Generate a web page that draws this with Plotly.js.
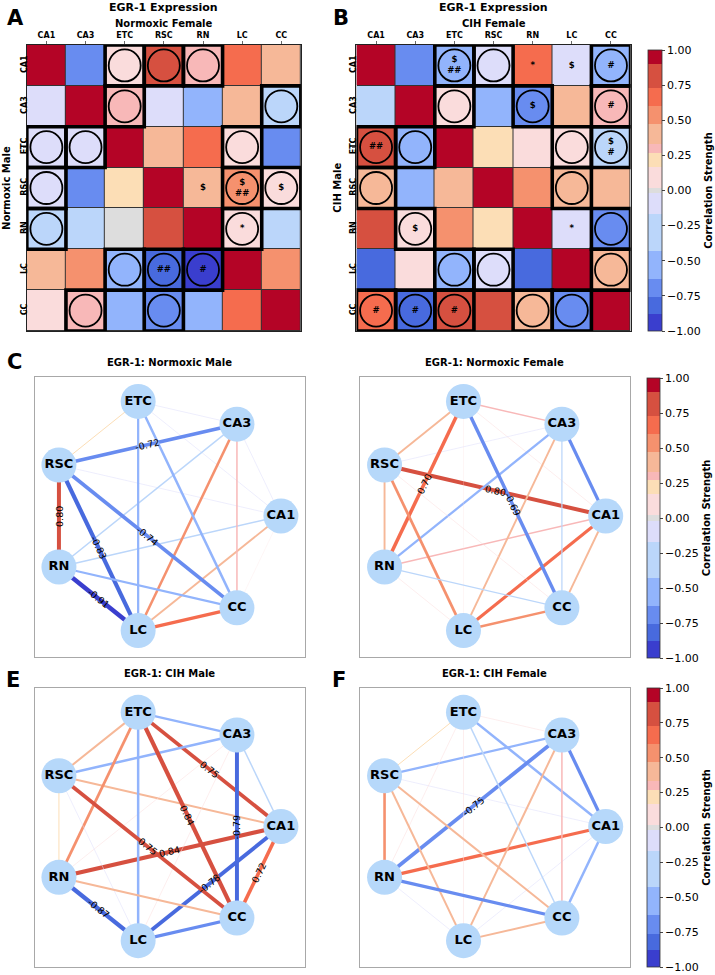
<!DOCTYPE html>
<html><head><meta charset="utf-8">
<script src="https://cdn.plot.ly/plotly-3.0.1.min.js"></script>
<style>html,body{margin:0;padding:0;background:#fff}#chart{width:715px;height:975px}</style>
</head><body><div id="chart"></div>
<script>
// ---------------- DATA ----------------
const regions = ['CA1','CA3','ETC','RSC','RN','LC','CC'];
// Normoxic matrix: upper triangle = Normoxic Female, lower triangle = Normoxic Male
const normoxicCorr = [
  [ 1.00, -0.65,  0.10,  0.80,  0.30,  0.62,  0.38],
  [-0.10,  1.00,  0.30, -0.10, -0.45,  0.38, -0.25],
  [-0.10, -0.10,  1.00,  0.38,  0.70,  0.05, -0.69],
  [-0.10, -0.72,  0.20,  1.00,  0.38,  0.55,  0.10],
  [-0.30, -0.30,  0.00,  0.80,  1.00,  0.10, -0.25],
  [ 0.38,  0.50, -0.45, -0.83, -0.91,  1.00,  0.50],
  [ 0.05,  0.30, -0.50, -0.74, -0.45,  0.65,  1.00]
];
// CIH matrix: upper triangle = CIH Female, lower triangle = CIH Male
const cihCorr = [
  [ 1.00, -0.65, -0.50, -0.10,  0.65, -0.10, -0.50],
  [-0.30,  1.00,  0.10, -0.45, -0.75,  0.40,  0.30],
  [ 0.75, -0.45,  1.00,  0.20,  0.10,  0.10, -0.30],
  [ 0.40, -0.50,  0.40,  1.00,  0.52,  0.40,  0.40],
  [ 0.84,  0.10,  0.55,  0.20,  1.00, -0.10, -0.65],
  [-0.78,  0.10, -0.50, -0.10, -0.87,  1.00,  0.40],
  [ 0.72, -0.79,  0.84,  0.75,  0.40, -0.64,  1.00]
];
// significant cells (circle + thick box)
const normoxicSig = [
  [0,0,1,1,1,0,0],
  [0,0,1,0,0,0,1],
  [1,1,0,0,0,1,0],
  [1,0,0,0,0,1,1],
  [1,0,0,0,0,1,0],
  [0,0,1,1,1,0,0],
  [0,1,0,1,0,0,0]
];
const cihSig = [
  [0,0,1,1,0,0,1],
  [0,0,1,0,1,0,1],
  [1,1,0,0,0,1,1],
  [1,0,0,0,0,1,0],
  [0,1,0,0,0,0,1],
  [0,0,1,1,0,0,1],
  [1,1,1,0,1,1,0]
];
// group-comparison symbols inside cells
const normoxicMarks = [
  ['','','','','','',''],
  ['','','','','','',''],
  ['','','','','','',''],
  ['','','','','$','$<br>##','$'],
  ['','','','','','*',''],
  ['','','','##','#','',''],
  ['','','','','','','']
];
const cihMarks = [
  ['','','$<br>##','','*','$','#'],
  ['','','','','$','','#'],
  ['##','','','','','','$<br>#'],
  ['','','','','','',''],
  ['','$','','','','*',''],
  ['','','','','','',''],
  ['#','#','#','','','','']
];
const labelThreshold = 0.68;
const colorBands = [
  [-1.00, -0.88, 'rgb(58,62,206)'],
  [-0.88, -0.76, 'rgb(72,106,222)'],
  [-0.76, -0.63, 'rgb(104,140,240)'],
  [-0.63, -0.43, 'rgb(146,180,252)'],
  [-0.43, -0.17, 'rgb(187,214,250)'],
  [-0.17, -0.02, 'rgb(221,221,250)'],
  [-0.02,  0.02, 'rgb(221,221,221)'],
  [ 0.02,  0.17, 'rgb(250,220,220)'],
  [ 0.17,  0.27, 'rgb(252,222,182)'],
  [ 0.27,  0.33, 'rgb(248,184,184)'],
  [ 0.33,  0.47, 'rgb(246,184,152)'],
  [ 0.47,  0.60, 'rgb(245,145,110)'],
  [ 0.60,  0.73, 'rgb(245,108,78)'],
  [ 0.73,  0.90, 'rgb(214,80,64)'],
  [ 0.90,  1.00, 'rgb(180,4,38)']
];

// ---------------- HELPERS ----------------
const W = 715, H = 975;
const FONT = 'DejaVu Sans, Liberation Sans, sans-serif';
const px = v => v / W;
const py = v => 1 - v / H;
const colorscale = [];
colorBands.forEach(b => { colorscale.push([(b[0]+1)/2, b[2]]); colorscale.push([(b[1]+1)/2, b[2]]); });
function colorFor(v){
  for (const b of colorBands){ if (v >= b[0] && v < b[1]) return b[2]; }
  return colorBands[colorBands.length-1][2];
}
const idx = regions.map((_, i) => i);

const traces = [];
const shapes = [];
const annotations = [];
const layout = {
  width: W, height: H, margin: {l:0, r:0, t:0, b:0},
  paper_bgcolor: '#fff', plot_bgcolor: '#fff', showlegend: false, hovermode: false,
  font: {family: FONT, color: '#000'}
};

// ---------------- HEATMAPS ----------------
function heatmapPanel(n, matrix, sig, marks, x0, x1, y0, y1, showScale){
  const xa = n === 1 ? 'x' : 'x' + n, ya = n === 1 ? 'y' : 'y' + n;
  const xk = n === 1 ? 'xaxis' : 'xaxis' + n, yk = n === 1 ? 'yaxis' : 'yaxis' + n;
  layout[xk] = {domain: [px(x0), px(x1)], range: [-0.5, 6.5], anchor: ya, side: 'top',
    tickvals: idx, ticktext: regions, tickfont: {size: 8, weight: 'bold', family: FONT},
    ticks: 'outside', ticklen: 3, tickwidth: 0.8, showgrid: false, zeroline: false,
    showline: true, mirror: true, linecolor: '#222', linewidth: 1, fixedrange: true};
  layout[yk] = {domain: [py(y1), py(y0)], range: [6.5, -0.5], anchor: xa,
    tickvals: idx, ticktext: regions, tickangle: -90, tickfont: {size: 8, weight: 'bold', family: FONT},
    ticks: 'outside', ticklen: 3, tickwidth: 0.8, ticklabelstandoff: -7, showgrid: false, zeroline: false,
    showline: true, mirror: true, linecolor: '#222', linewidth: 1, fixedrange: true};
  shapes.push({type: 'rect', xref: xa, yref: ya, x0: -0.5, x1: 6.5, y0: -0.5, y1: 6.5,
    fillcolor: '#333', line: {width: 0}, layer: 'below'});
  const hm = {type: 'heatmap', z: matrix, x: idx, y: idx, xaxis: xa, yaxis: ya,
    colorscale: colorscale, zmin: -1, zmax: 1, xgap: 1, ygap: 1, hoverinfo: 'skip',
    showscale: showScale};
  if (showScale){
    hm.colorbar = {x: px(653), xanchor: 'left', y: py(190.5), yanchor: 'middle',
      len: 281, lenmode: 'pixels', thickness: 14, thicknessmode: 'pixels', xpad: 0, ypad: 0,
      outlinewidth: 0.8, outlinecolor: '#333',
      tickvals: [-1,-0.75,-0.5,-0.25,0,0.25,0.5,0.75,1], tickformat: '.2f',
      ticks: 'outside', ticklen: 3, tickfont: {size: 11, family: FONT},
      title: {text: 'Correlation Strength', side: 'right', font: {size: 10, weight: 'bold', family: FONT}}};
  }
  traces.push(hm);
  const cx = [], cy = [], tx = [], ty = [], tt = [];
  for (let i = 0; i < 7; i++) for (let j = 0; j < 7; j++){
    if (sig[i][j]){
      cx.push(j); cy.push(i);
      shapes.push({type: 'rect', xref: xa, yref: ya, x0: j-0.5, x1: j+0.5, y0: i-0.5, y1: i+0.5,
        line: {color: '#000', width: 3.6}, fillcolor: 'rgba(0,0,0,0)'});
    }
    if (marks[i][j]){ tx.push(j); ty.push(i); tt.push(marks[i][j]); }
  }
  traces.push({type: 'scatter', mode: 'markers', x: cx, y: cy, xaxis: xa, yaxis: ya, hoverinfo: 'skip',
    marker: {symbol: 'circle', size: 32, color: 'rgba(0,0,0,0)', line: {color: '#000', width: 1.8}}});
  traces.push({type: 'scatter', mode: 'text', x: tx, y: ty, text: tt, xaxis: xa, yaxis: ya, hoverinfo: 'skip',
    textfont: {size: 8.5, weight: 'bold', family: FONT, color: '#000'}});
}
heatmapPanel(1, normoxicCorr, normoxicSig, normoxicMarks, 27, 303, 45, 331, false);
heatmapPanel(2, cihCorr, cihSig, cihMarks, 359, 635, 45, 331, true);

// ---------------- NETWORKS ----------------
const nodeX = regions.map((_, k) => Math.cos(2*Math.PI*k/7));
const nodeY = regions.map((_, k) => Math.sin(2*Math.PI*k/7));
function networkPanel(n, matrix, female, x0, x1, y0, y1, cbar){
  const xa = 'x' + n, ya = 'y' + n;
  const common = {showgrid: false, zeroline: false, showticklabels: false, ticks: '',
    showline: true, mirror: true, linecolor: '#a8a8a8', linewidth: 1, fixedrange: true};
  layout['xaxis' + n] = Object.assign({domain: [px(x0), px(x1)], range: [-1.108, 1.205], anchor: ya}, common);
  layout['yaxis' + n] = Object.assign({domain: [py(y1), py(y0)], range: [-1.2, 1.183], anchor: xa}, common);
  for (let a = 0; a < 7; a++) for (let b = a+1; b < 7; b++){
    const r = female ? matrix[a][b] : matrix[b][a];
    traces.push({type: 'scatter', mode: 'lines', x: [nodeX[a], nodeX[b]], y: [nodeY[a], nodeY[b]],
      xaxis: xa, yaxis: ya, hoverinfo: 'skip',
      line: {color: colorFor(r), width: Math.abs(r) * 5}});
    if (Math.abs(r) >= labelThreshold){
      let th = Math.atan2(nodeY[b]-nodeY[a], nodeX[b]-nodeX[a]) * 180 / Math.PI;
      if (th > 90) th -= 180;
      if (th <= -90) th += 180;
      annotations.push({xref: xa, yref: ya, x: (nodeX[a]+nodeX[b])/2, y: (nodeY[a]+nodeY[b])/2,
        text: r.toFixed(2), showarrow: false, textangle: -th,
        font: {size: 9.5, family: FONT, color: '#000'}});
    }
  }
  if (cbar){
    traces.push({type: 'scatter', mode: 'markers', x: [0, 0], y: [0, 0], xaxis: xa, yaxis: ya, hoverinfo: 'skip',
      marker: {size: 1, opacity: 0, color: [-1, 1], cmin: -1, cmax: 1, colorscale: colorscale, showscale: true,
        colorbar: {x: px(652), xanchor: 'left', y: py(cbar.center), yanchor: 'middle',
          len: cbar.len, lenmode: 'pixels', thickness: 13, thicknessmode: 'pixels', xpad: 0, ypad: 0,
          outlinewidth: 0.8, outlinecolor: '#333',
          tickvals: [-1,-0.75,-0.5,-0.25,0,0.25,0.5,0.75,1], tickformat: '.2f',
          ticks: 'outside', ticklen: 3, tickfont: {size: 11, family: FONT},
          title: {text: 'Correlation Strength', side: 'right', font: {size: 10, weight: 'bold', family: FONT}}}}});
  }
  traces.push({type: 'scatter', mode: 'markers+text', x: nodeX, y: nodeY, text: regions,
    xaxis: xa, yaxis: ya, hoverinfo: 'skip', textposition: 'middle center',
    marker: {size: 35, color: 'rgb(182,216,250)', line: {width: 0}},
    textfont: {size: 13, weight: 'bold', family: FONT, color: '#000'}});
}
networkPanel(3, normoxicCorr, false, 35, 307, 377, 657, null);
networkPanel(4, normoxicCorr, true, 363, 634, 377, 657, {center: 518, len: 280});
networkPanel(5, cihCorr, false, 35, 307, 688, 967, null);
networkPanel(6, cihCorr, true, 363, 634, 688, 967, {center: 827.5, len: 279});

// ---------------- TEXT ----------------
function txt(x, y, text, size, opts){
  annotations.push(Object.assign({xref: 'paper', yref: 'paper', x: px(x), y: py(y), text: text,
    showarrow: false, xanchor: 'center', yanchor: 'middle',
    font: {size: size, weight: 'bold', family: FONT, color: '#000'}}, opts || {}));
}
txt(165, 8, 'EGR-1 Expression', 11);
txt(497, 8, 'EGR-1 Expression', 11);
txt(165, 24, 'Normoxic Female', 10);
txt(497, 24, 'CIH Female', 10);
txt(6, 188, 'Normoxic Male', 10, {textangle: -90});
txt(339, 188, 'CIH Male', 10, {textangle: -90});
txt(16, 18, 'A', 21);
txt(343, 18, 'B', 21);
txt(15, 362, 'C', 21);
txt(13, 680, 'E', 21);
txt(341, 680, 'F', 21);
txt(171, 362, 'EGR-1: Normoxic Male', 10);
txt(498, 362, 'EGR-1: Normoxic Female', 10);
txt(171, 673, 'EGR-1: CIH Male', 10);
txt(498, 673, 'EGR-1: CIH Female', 10);

layout.shapes = shapes;
layout.annotations = annotations;
Plotly.newPlot('chart', traces, layout, {staticPlot: true, displayModeBar: false});
</script>
</body></html>
